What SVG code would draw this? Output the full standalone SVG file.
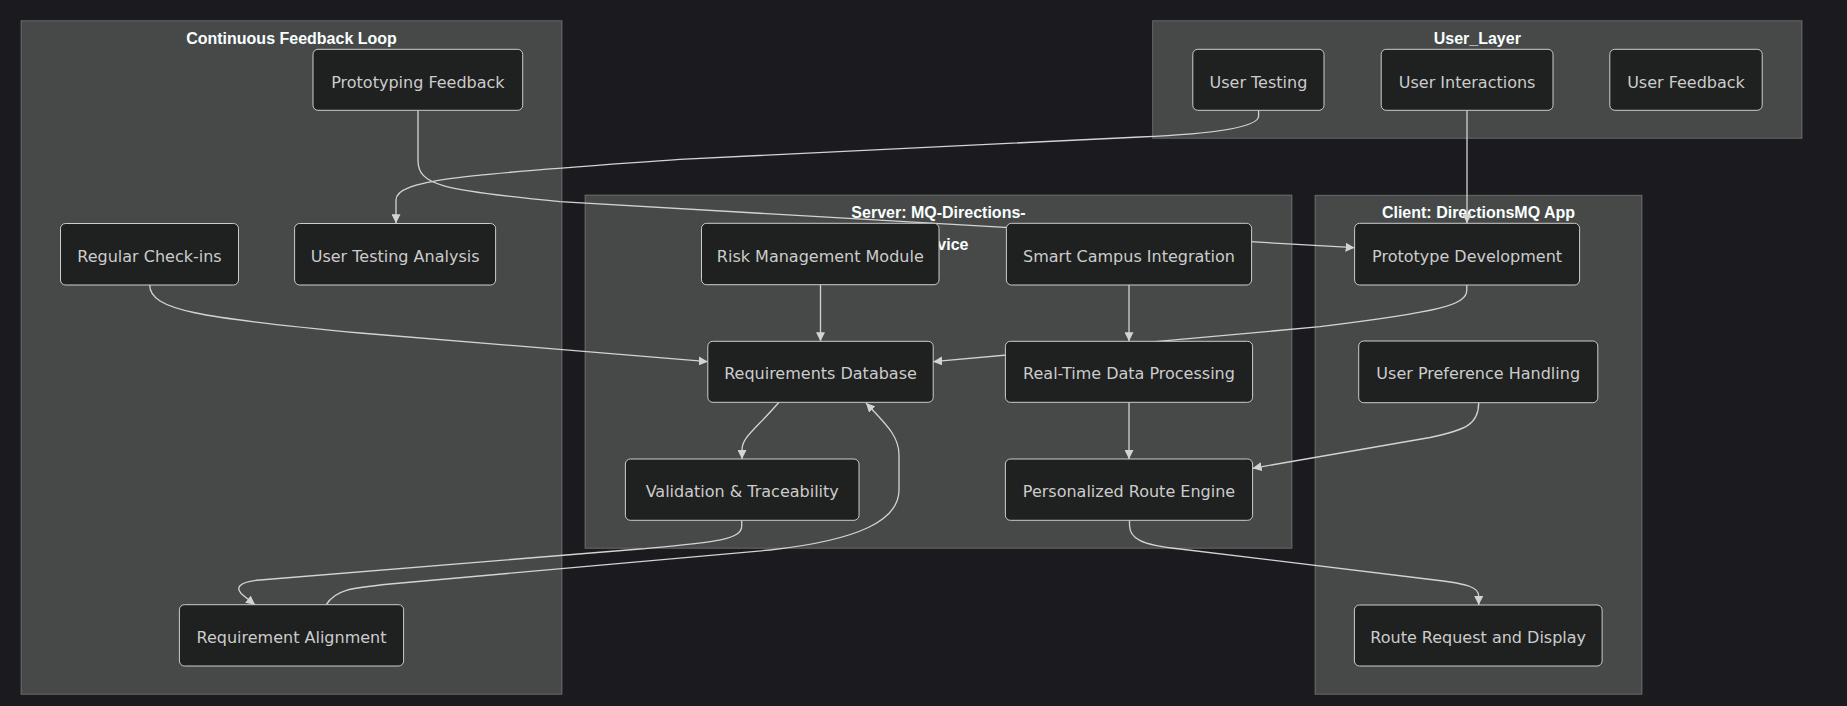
<svg xmlns="http://www.w3.org/2000/svg" width="1847" height="706" viewBox="0 0 1847 706">
<defs>
<style>
.cluster rect{fill:#474949;stroke:rgba(255,255,255,0.25);stroke-width:1}
.ctitle{font-family:"Liberation Sans",Arial,sans-serif;font-weight:bold;font-size:16px;fill:#F9FFFE;text-anchor:middle}
.node rect{fill:#1f2020;stroke:#cccccc;stroke-width:1}
.node text{font-family:"DejaVu Sans",sans-serif;font-size:16px;fill:#cccccc;text-anchor:middle}
.edge{fill:none;stroke:#d3d3d3;stroke-width:1.3}
</style>
<marker id="arrow" viewBox="0 0 10 10" refX="10" refY="5" markerWidth="9" markerHeight="9" markerUnits="userSpaceOnUse" orient="auto">
<path d="M0,0 L10,5 L0,10 z" fill="#d3d3d3"/>
</marker>
</defs>
<rect x="0" y="0" width="1847" height="706" fill="#1b1b1f"/>
<g id="clusters">
<g id="cluster-feedback" class="cluster"><rect x="21" y="20.7" width="541" height="673.6"/><text class="ctitle" x="291.5" y="43.5">Continuous Feedback Loop</text></g>
<g id="cluster-user" class="cluster"><rect x="1152.6" y="20.7" width="649.4" height="117.6"/><text class="ctitle" x="1477.3" y="44">User_Layer</text></g>
<g id="cluster-server" class="cluster"><rect x="585" y="195" width="707" height="353.3"/><text class="ctitle" x="938.5" y="218">Server: MQ-Directions-</text><text class="ctitle" x="940" y="250">Service</text></g>
<g id="cluster-client" class="cluster"><rect x="1315" y="195.3" width="327" height="499"/><text class="ctitle" x="1478.5" y="218">Client: DirectionsMQ App</text></g>
</g>
<g id="connectors">
<path class="edge" marker-end="url(#arrow)" d="M1258.6,110.3 V116 Q1258.6,132 1140,137 L680,159.3 C480,174 396,178 396,200 V223.3"/>
<path class="edge" marker-end="url(#arrow)" d="M418,110.3 V160 C418,185 440,190 560,201.7 L1354.6,247.7"/>
<path class="edge" marker-end="url(#arrow)" d="M1467,110.3 V223.3"/>
<path class="edge" marker-end="url(#arrow)" d="M149.7,285 C149.7,310 200,318 360,333 L707.8,361.7"/>
<path class="edge" marker-end="url(#arrow)" d="M820.5,284.7 V341.3"/>
<path class="edge" marker-end="url(#arrow)" d="M1129,285 V341.3"/>
<path class="edge" marker-end="url(#arrow)" d="M1466.8,285 V290 C1466.8,305 1440,312 1320,326.7 L933.2,361.7"/>
<path class="edge" marker-end="url(#arrow)" d="M1129,402.3 V459"/>
<path class="edge" marker-end="url(#arrow)" d="M1478.7,402.7 C1478.7,425 1465,430 1430,437.5 L1252.6,468.3"/>
<path class="edge" marker-end="url(#arrow)" d="M779,402.3 C755,430 742,437 742,450 V459"/>
<path class="edge" marker-end="url(#arrow)" d="M741.7,520.3 V526 C741.7,540 715,542 640,549 L260,580 C238,582 234,588 244,596 L255,604.7"/>
<path class="edge" marker-end="url(#arrow)" d="M326.3,604.7 C335,590 350,588 390,584 L770,550 C860,540 899,520 899,490 V455 C899,438 890,428 866,403"/>
<path class="edge" marker-end="url(#arrow)" d="M1129.5,520.3 V525 C1129.5,538 1140,545 1180,549 L1435,580 C1470,584 1478.7,588 1478.7,596 V605"/>
</g>
<g id="n-prototyping-feedback" class="node"><rect x="313" y="49.3" width="209.7" height="61" rx="5"/><text x="417.9" y="87.5">Prototyping Feedback</text></g>
<g id="n-regular-checkins" class="node"><rect x="60.5" y="223.5" width="178" height="61.5" rx="5"/><text x="149.5" y="261.8">Regular Check-ins</text></g>
<g id="n-user-testing-analysis" class="node"><rect x="294.6" y="223.5" width="201" height="61.5" rx="5"/><text x="395.1" y="261.8">User Testing Analysis</text></g>
<g id="n-requirement-alignment" class="node"><rect x="179.4" y="604.7" width="224.2" height="61.3" rx="5"/><text x="291.5" y="642.9">Requirement Alignment</text></g>
<g id="n-risk-management" class="node"><rect x="701.5" y="223.3" width="237.5" height="61.4" rx="5"/><text x="820.3" y="261.6">Risk Management Module</text></g>
<g id="n-smart-campus" class="node"><rect x="1006.4" y="223.3" width="245.2" height="61.7" rx="5"/><text x="1129" y="261.7">Smart Campus Integration</text></g>
<g id="n-requirements-db" class="node"><rect x="707.8" y="341.3" width="225.4" height="61" rx="5"/><text x="820.5" y="379.4">Requirements Database</text></g>
<g id="n-realtime" class="node"><rect x="1005.4" y="341.3" width="247.2" height="61" rx="5"/><text x="1129" y="379.4">Real-Time Data Processing</text></g>
<g id="n-validation" class="node"><rect x="625.4" y="459" width="233.6" height="61.3" rx="5"/><text x="742.2" y="497.2">Validation &amp; Traceability</text></g>
<g id="n-route-engine" class="node"><rect x="1005.4" y="459" width="247.2" height="61.3" rx="5"/><text x="1129" y="497.2">Personalized Route Engine</text></g>
<g id="n-user-testing" class="node"><rect x="1192.8" y="49.3" width="131.2" height="61" rx="5"/><text x="1258.4" y="87.5">User Testing</text></g>
<g id="n-user-interactions" class="node"><rect x="1381.2" y="49.3" width="171.8" height="61" rx="5"/><text x="1467.1" y="87.5">User Interactions</text></g>
<g id="n-user-feedback" class="node"><rect x="1609.8" y="49.3" width="152.4" height="61" rx="5"/><text x="1686" y="87.5">User Feedback</text></g>
<g id="n-prototype-dev" class="node"><rect x="1354.6" y="223.3" width="225" height="61.7" rx="5"/><text x="1467.1" y="261.7">Prototype Development</text></g>
<g id="n-user-preference" class="node"><rect x="1358.7" y="341" width="239.1" height="61.7" rx="5"/><text x="1478.2" y="379.4">User Preference Handling</text></g>
<g id="n-route-request" class="node"><rect x="1354.4" y="605" width="247.7" height="61" rx="5"/><text x="1478.2" y="643.1">Route Request and Display</text></g>
</svg>
